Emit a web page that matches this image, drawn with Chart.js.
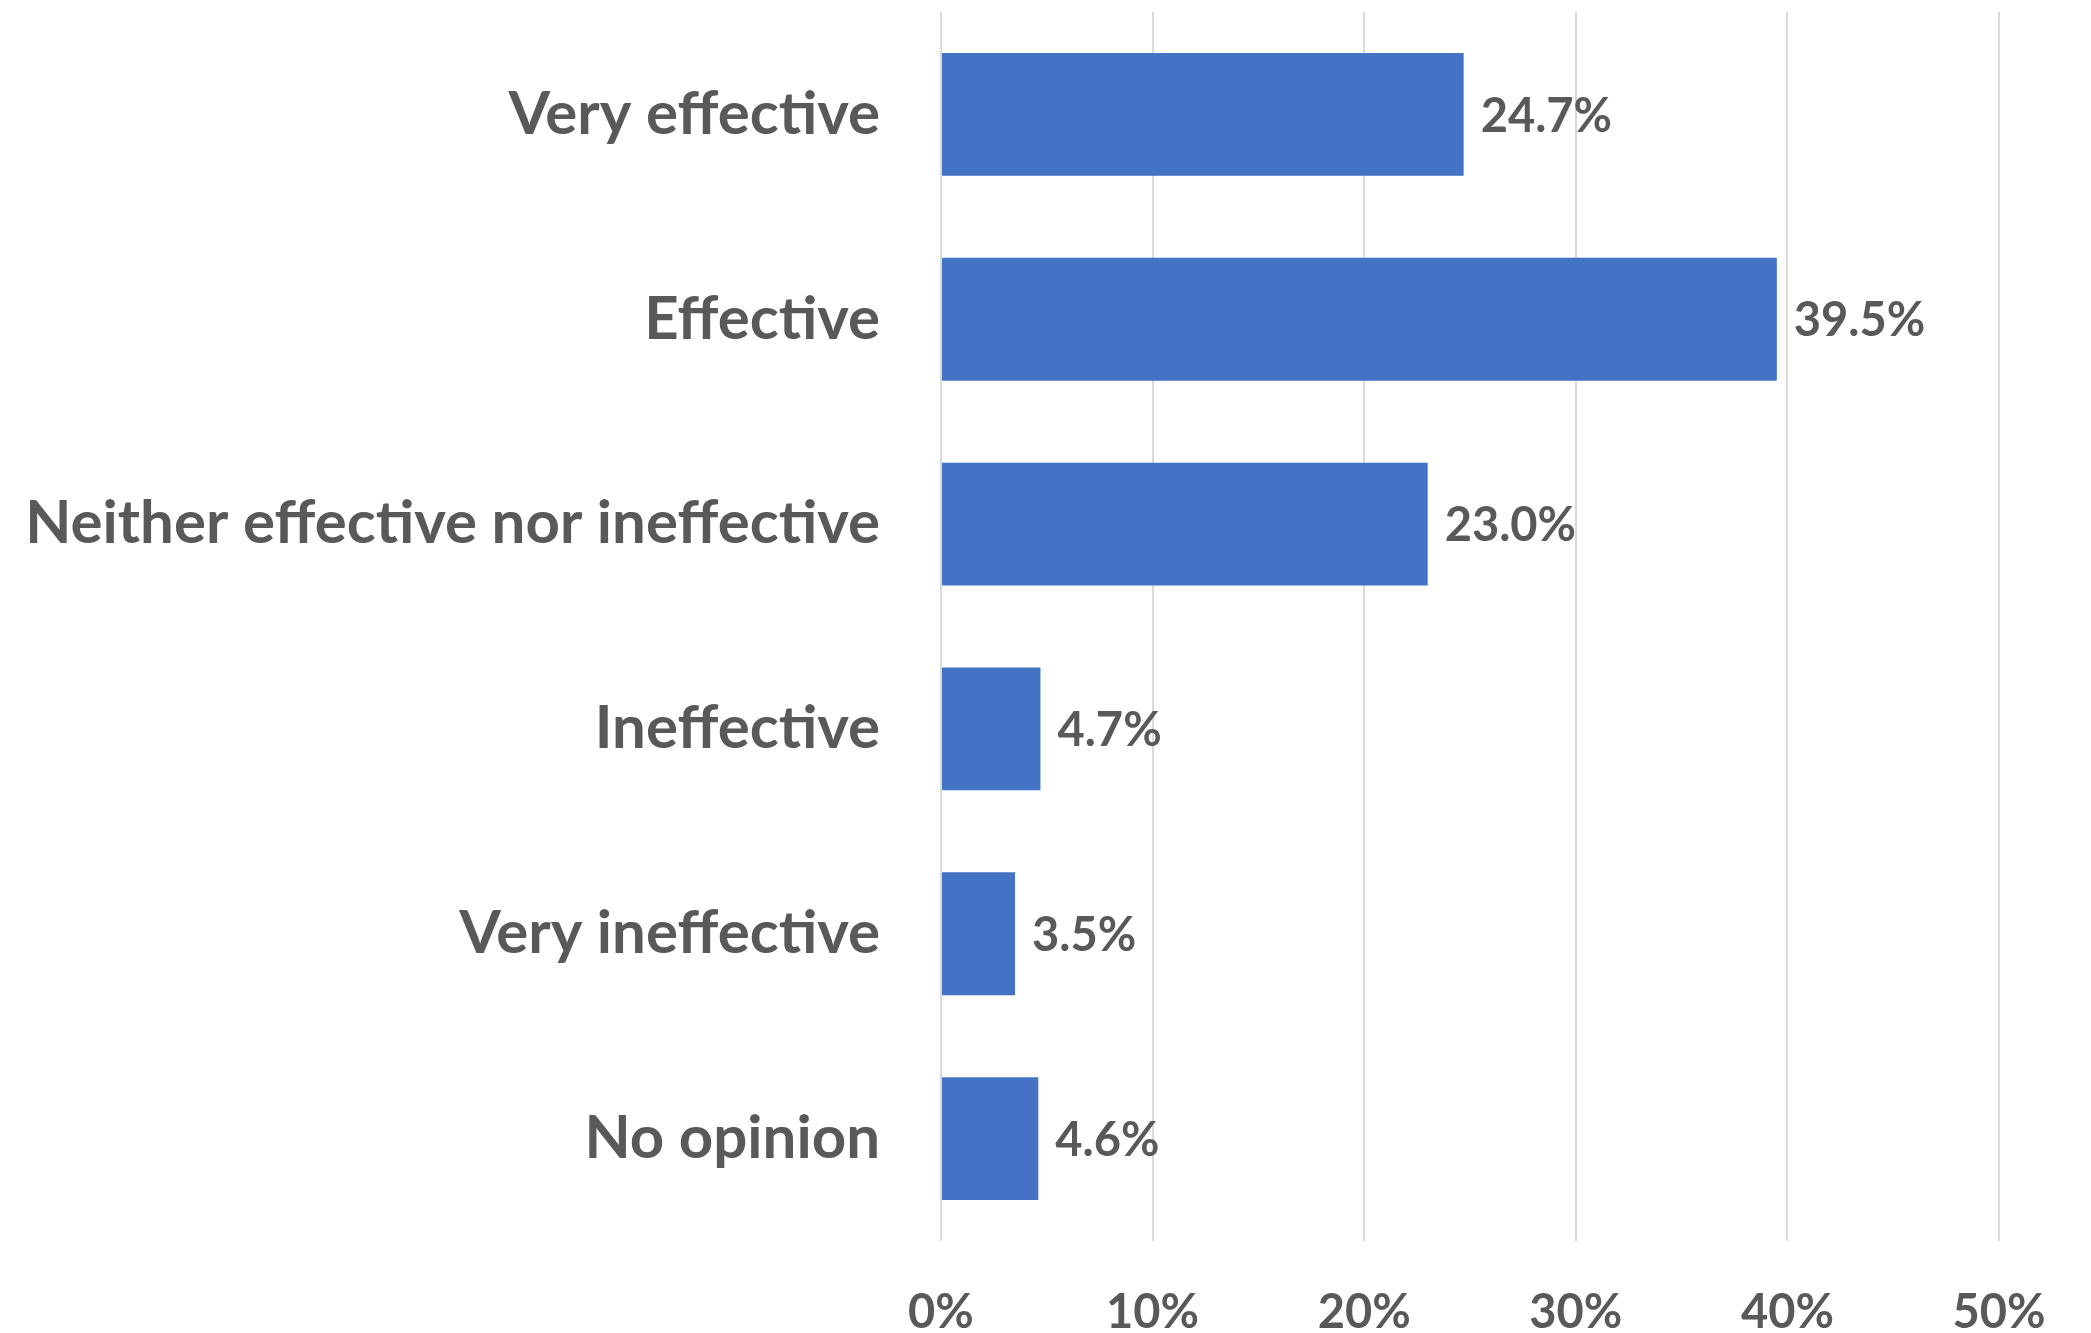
<!DOCTYPE html>
<html>
<head>
<meta charset="utf-8">
<script src="https://cdn.jsdelivr.net/npm/chart.js@4.4.0/dist/chart.umd.min.js"></script>
<style>
html,body{margin:0;padding:0;background:#fff;}
#wrap{width:2091px;height:1333px;position:relative;}
</style>
</head>
<body>
<div id="wrap"><canvas id="c" width="2091" height="1333"></canvas></div>
<script>
const categories = ["Very effective","Effective","Neither effective nor ineffective","Ineffective","Very ineffective","No opinion"];
const values = [24.7, 39.5, 23.0, 4.7, 3.5, 4.6];
const xTicks = [0,10,20,30,40,50];

const TEXT = '#595959';
const FONT = 'Lato';

const dataLabels = {
  id:'dataLabels',
  afterDatasetsDraw(chart){
    const ctx = chart.ctx;
    const meta = chart.getDatasetMeta(0);
    ctx.save();
    ctx.fillStyle = TEXT;
    ctx.font = 'bold 47px ' + FONT;
    ctx.textAlign = 'left';
    ctx.textBaseline = 'middle';
    meta.data.forEach((bar,i)=>{
      ctx.fillText(values[i].toFixed(1)+'%', bar.x + 17, bar.y + 2);
    });
    ctx.restore();
  }
};

new Chart(document.getElementById('c'), {
  type:'bar',
  data:{
    labels:categories,
    datasets:[{
      data:values,
      backgroundColor:'#4472C4',
      borderWidth:0,
      categoryPercentage:1.0,
      barPercentage:0.6
    }]
  },
  options:{
    indexAxis:'y',
    responsive:false,
    animation:false,
    events:[],
    layout:{padding:{top:12,right:92,left:0,bottom:0}},
    plugins:{legend:{display:false},tooltip:{enabled:false}},
    scales:{
      x:{
        min:0,max:50,
        afterBuildTicks(scale){ scale.ticks = xTicks.map(v=>({value:v})); },
        afterFit(scale){ scale.height = 92; scale.paddingLeft = 0; scale.paddingRight = 0; },
        grid:{color:'#D9D9D9',lineWidth:2,drawTicks:false},
        border:{display:false},
        ticks:{
          color:TEXT,
          padding:44,
          maxRotation:0,
          font:{family:FONT,size:47,weight:'bold'},
          callback:(v)=>v+'%'
        }
      },
      y:{
        afterFit(scale){ scale.width = 941; scale.paddingTop = 0; scale.paddingBottom = 0; },
        grid:{display:false,drawTicks:false},
        border:{display:false},
        ticks:{
          color:TEXT,
          padding:61,
          font:{family:FONT,size:60,weight:'bold'}
        }
      }
    }
  },
  plugins:[dataLabels]
});
</script>
</body>
</html>
